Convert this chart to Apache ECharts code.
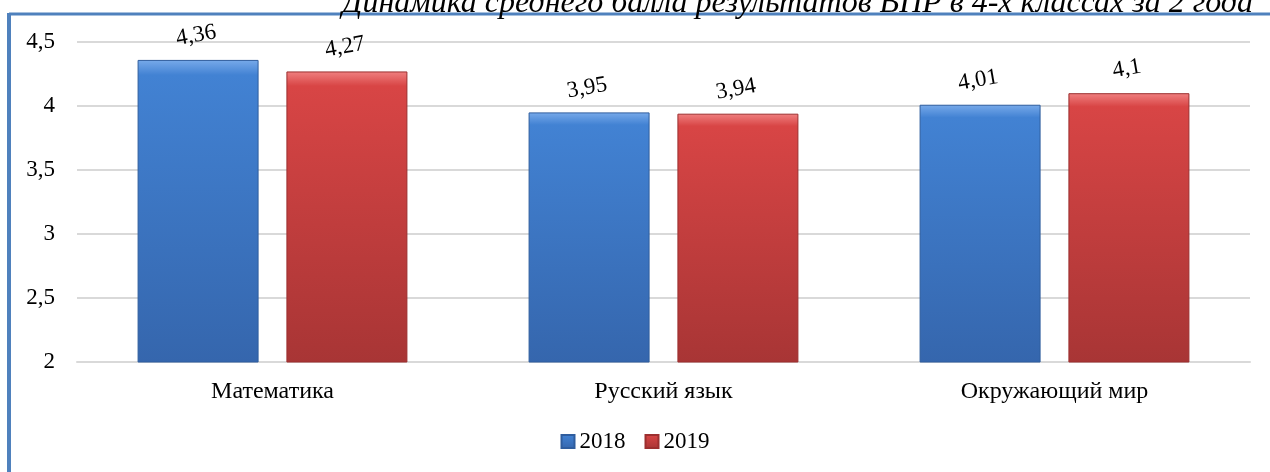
<!DOCTYPE html>
<html><head><meta charset="utf-8">
<script src="https://cdn.jsdelivr.net/npm/echarts@6/dist/echarts.min.js"></script>
<style>html,body{margin:0;padding:0;background:#fff}#c{width:1270px;height:472px}</style>
</head><body><div id="c"></div>
<script>
const titleText = 'Динамика среднего балла результатов ВПР в 4-х классах за 2 года';
const categories = ['Математика', 'Русский язык', 'Окружающий мир'];
const seriesNames = ['2018', '2019'];
const values2018 = [4.36, 3.95, 4.01];
const values2019 = [4.27, 3.94, 4.1];
const yTicks = {min: 2, max: 4.5, interval: 0.5};

const font = '"Liberation Serif", "Times New Roman", serif';
function grad(top, mid, bot) {
  return new echarts.graphic.LinearGradient(0, 0, 0, 1, [
    {offset: 0, color: top}, {offset: 0.05, color: mid}, {offset: 1, color: bot}
  ]);
}
const blue = grad('#78aaea', '#4282d3', '#3566ad');
const red = grad('#f08080', '#d84545', '#a83535');
const fmt = v => String(v).replace('.', ',');

const chart = echarts.init(document.getElementById('c'));
chart.setOption({
  animation: false,
  textStyle: {fontFamily: font},
  title: {
    text: titleText, right: 12, top: -17,
    textStyle: {fontFamily: font, fontStyle: 'italic', fontWeight: 'normal', fontSize: 32, color: '#000'}
  },
  graphic: [
    {type: 'line', shape: {x1: 9, y1: 14, x2: 1270, y2: 14}, style: {stroke: '#4f81bd', lineWidth: 3}},
    {type: 'line', shape: {x1: 9, y1: 13, x2: 9, y2: 472}, style: {stroke: '#4f81bd', lineWidth: 4}}
  ],
  legend: {
    data: seriesNames, bottom: 14, left: 'center', icon: 'rect', itemWidth: 13, itemHeight: 13, itemGap: 19,
    textStyle: {fontFamily: font, fontSize: 23, color: '#000'}
  },
  grid: {left: 77, right: 20, top: 42, bottom: 110},
  xAxis: {
    type: 'category', data: categories,
    axisLine: {show: true, lineStyle: {color: '#d9d9d9', width: 2}},
    axisTick: {show: false},
    axisLabel: {fontFamily: font, fontSize: 24, color: '#000', margin: 18}
  },
  yAxis: {
    type: 'value', min: yTicks.min, max: yTicks.max, interval: yTicks.interval,
    axisLine: {show: false}, axisTick: {show: false},
    splitLine: {lineStyle: {color: '#d9d9d9', width: 2}},
    axisLabel: {fontFamily: font, fontSize: 23, color: '#000', margin: 22, formatter: fmt}
  },
  series: [
    {name: seriesNames[0], type: 'bar', data: values2018, barWidth: 121, barGap: '23%',
     itemStyle: {color: blue, borderColor: '#2f5d9e', borderWidth: 1},
     label: {show: true, position: 'top', distance: 13, rotate: 10, fontFamily: font, fontSize: 23, color: '#000', formatter: p => fmt(p.value)}},
    {name: seriesNames[1], type: 'bar', data: values2019, barWidth: 121,
     itemStyle: {color: red, borderColor: '#9c2f2f', borderWidth: 1},
     label: {show: true, position: 'top', distance: 13, rotate: 10, fontFamily: font, fontSize: 23, color: '#000', formatter: p => fmt(p.value)}}
  ]
});
</script></body></html>
